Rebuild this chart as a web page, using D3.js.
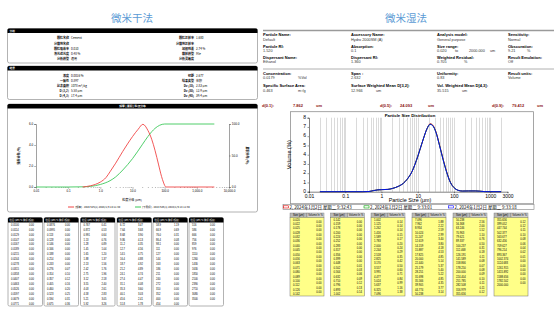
<!DOCTYPE html>
<html>
<head>
<meta charset="utf-8">
<script src="https://cdn.jsdelivr.net/npm/d3@7"></script>
<style>
  body { margin: 0; background: #fff; }
  svg text { font-family: "Liberation Sans", Arial, sans-serif; }
  svg .cn { font-family: "Noto Sans CJK SC", "Liberation Sans", sans-serif; }
</style>
</head>
<body>
<div id="chart-area"></div>
<script>
// ---------------- data : left (dry) ----------------
let dryInfoLabelsL = ["颗粒名称", "分散剂名称", "颗粒吸收率", "激光遮光度", "分析模型"];
let dryInfoValuesL = ["Cement", "", "0.010", "0.48 %", "通用"];
let dryInfoLabelsR = ["颗粒折射率", "分散剂折射率", "加权残差", "散射模型", "分析灵敏度"];
let dryInfoValuesR = ["1.680", "", "2.74 %", "Mie", ""];
let dryResLabelsL = ["浓度", "一致性", "比表面积", "D [3,2]", "D [4,3]"];
let dryResValuesL = ["0.0016 %", "0.897", "1078 m²/kg", "5.58 μm", "17.4 μm"];
let dryResLabelsR = ["径距", "结果类型", "Dv (10)", "Dv (50)", "Dv (90)"];
let dryResValuesR = ["2.677", "体积", "2.83 μm", "12.9 μm", "39.4 μm"];

// curves
let dryFreqSizes = [0.28, 0.5, 0.7, 1, 1.5, 2, 3, 5, 7, 10, 15, 21, 30, 40, 50, 65, 80, 91, 100, 110, 200, 1000, 3500];
let dryFreq      = [0, 0.12, 0.25, 0.47, 0.9, 1.45, 2.27, 3.4, 4.1, 4.8, 5.5, 5.97, 5.4, 4.5, 3.5, 2.1, 1.0, 0.47, 0.15, 0, 0, 0, 0];
let dryCumSizes  = [0.01, 0.1, 0.3, 0.5, 1, 2, 3, 5, 10, 20, 30, 40, 50, 70, 100, 3500];
let dryCum       = [0, 0, 0.3, 1, 4, 10, 16, 27, 45, 67, 80, 88, 93, 98, 100, 100];

let dryXTicks = [0.01, 0.1, 1, 10, 100, 1000, 10000];
let dryFreqTicks = [0, 2, 4, 6];
let dryCumTicks = [0, 50, 100];

// table : size (µm) / % volume
let dryTableSizes = [
  0.0100, 0.0114, 0.0129, 0.0147, 0.0167, 0.0189, 0.0215, 0.0244, 0.0278, 0.0315, 0.0358, 0.0407, 0.0463, 0.0526, 0.0597, 0.0679, 0.0771,
  0.0876, 0.0995, 0.113, 0.128, 0.146, 0.166, 0.188, 0.214, 0.243, 0.276, 0.314, 0.357, 0.405, 0.460, 0.523, 0.594, 0.675,
  0.767, 0.872, 0.991, 1.13, 1.28, 1.45, 1.65, 1.88, 2.13, 2.42, 2.75, 3.12, 3.55, 4.03, 4.58, 5.21, 5.92,
  6.72, 7.64, 8.68, 9.86, 11.2, 12.7, 14.5, 16.4, 18.7, 21.2, 24.1, 27.4, 31.1, 35.3, 40.1, 45.6, 51.8,
  58.9, 66.9, 76.0, 86.4, 98.1, 111, 127, 144, 163, 186, 211, 240, 272, 310, 352, 400, 454,
  516, 586, 666, 756, 859, 976, 1110, 1260, 1430, 1630, 1850, 2100, 2390, 2710, 3080, 3500
];
let dryTableValues = [
  0, 0, 0, 0, 0, 0, 0, 0, 0, 0, 0, 0, 0, 0, 0, 0, 0,
  0, 0, 0, 0, 0, 0, 0, 0, 0, 0.07, 0.10, 0.12, 0.16, 0.20, 0.25, 0.31, 0.36,
  0.41, 0.53, 0.64, 0.76, 0.89, 1.04, 1.20, 1.37, 1.56, 1.76, 1.96, 2.18, 2.40, 2.61, 2.83, 3.05, 3.26,
  3.47, 3.68, 3.90, 4.13, 4.35, 4.56, 4.75, 4.88, 4.92, 4.89, 4.74, 4.47, 4.08, 3.60, 3.03, 2.41, 1.78,
  1.19, 0.69, 0.31, 0.08, 0, 0, 0, 0, 0, 0, 0, 0, 0, 0, 0, 0, 0,
  0, 0, 0, 0, 0, 0, 0, 0, 0, 0, 0, 0, 0, 0, 0, 0
];

// ---------------- data : right (wet) ----------------
let wetInfoLabels = [
  ["Particle Name:", "Particle RI:", "Dispersant Name:"],
  ["Accessory Name:", "Absorption:", "Dispersant RI:"],
  ["Analysis model:", "Size range:", "Weighted Residual:"],
  ["Sensitivity:", "Obscuration:", "Result Emulation:"]
];
let wetInfoValues = [
  ["Default", "1.520", "Ethanol"],
  ["Hydro 2000SM (A)", "0.1", "1.360"],
  ["General purpose", "0.020", "0.705"],
  ["Normal", "9.21", "Off"]
];
let wetResLabels = [
  ["Concentration:", "Specific Surface Area:"],
  ["Span :", "Surface Weighted Mean D[3,2]:"],
  ["Uniformity:", "Vol. Weighted Mean D[4,3]:"],
  ["Result units:", ""]
];
let wetResValues = [
  ["0.0179", "0.463"],
  ["2.632", "12.966"],
  ["0.83", "35.515"],
  ["Volume", ""]
];
let wetDLabels = ["d(0.1):", "d(0.5):", "d(0.9):"];
let wetDValues = ["7.862", "24.093", "79.412"];

let wetCurveSizes = [0.02, 0.3, 0.45, 0.6, 0.8, 1, 1.5, 2, 3, 4, 5, 7, 10, 14, 18, 22, 26, 32, 40, 50, 63, 80, 100, 130, 170, 250, 400, 500, 700, 1000, 2000];
let wetRun1 = [0, 0, 0.02, 0.12, 0.2, 0.22, 0.25, 0.35, 0.6, 0.9, 1.3, 2.2, 3.8, 5.6, 6.8, 7.35, 7.2, 6.45, 5.05, 3.55, 2.15, 1.02, 0.46, 0.15, 0.07, 0.08, 0.08, 0.06, 0.01, 0, 0];
let wetRun2 = [0, 0, 0.02, 0.12, 0.2, 0.22, 0.25, 0.35, 0.6, 0.9, 1.3, 2.2, 3.8, 5.6, 6.8, 7.3, 7.15, 6.4, 5.0, 3.5, 2.1, 1.0, 0.45, 0.15, 0.07, 0.08, 0.08, 0.06, 0.01, 0, 0];
let wetRun3 = [0, 0, 0.02, 0.12, 0.2, 0.22, 0.25, 0.35, 0.6, 0.9, 1.3, 2.2, 3.8, 5.6, 6.8, 7.28, 7.13, 6.38, 4.98, 3.48, 2.08, 0.98, 0.44, 0.15, 0.07, 0.08, 0.08, 0.06, 0.01, 0, 0];
let wetRunNames = ["2, 2024年1月2日 星期二 9:32:43", "2, 2024年1月2日 星期二 9:33:01", "2, 2024年1月2日 星期二 9:33:18"];
let wetRunColors = ["#e00000", "#00a000", "#0000ff"];

let wetXTicks = [0.01, 0.1, 1, 10, 100, 1000, 3000];
let wetYTicks = [0, 1, 2, 3, 4, 5, 6, 7, 8];
let wetGridMultiples = [1, 2, 3, 4, 5, 6, 7, 8, 9];
let wetGridDecades = [0.01, 0.1, 1, 10, 100, 1000];

let wetTableSizes = [
  0.020, 0.022, 0.025, 0.028, 0.032, 0.036, 0.040, 0.045, 0.050, 0.056, 0.063, 0.071, 0.080, 0.089, 0.100, 0.112, 0.126,
  0.142, 0.159, 0.178, 0.200, 0.224, 0.252, 0.283, 0.317, 0.356, 0.399, 0.448, 0.502, 0.564, 0.632, 0.710, 0.796, 0.893,
  1.002, 1.125, 1.262, 1.416, 1.589, 1.783, 2.000, 2.244, 2.518, 2.825, 3.170, 3.557, 3.991, 4.477, 5.024, 5.637, 6.325,
  7.096, 7.962, 8.934, 10.024, 11.247, 12.619, 14.159, 15.887, 17.825, 20.000, 22.440, 25.179, 28.251, 31.698, 35.566, 39.905, 44.774,
  50.238, 56.368, 63.246, 70.963, 79.621, 89.337, 100.237, 112.468, 126.191, 141.589, 158.866, 178.250, 200.000, 224.404, 251.785, 282.508, 316.979,
  355.656, 399.052, 447.744, 502.377, 563.677, 632.456, 709.627, 796.214, 893.367, 1002.374, 1124.683, 1261.915, 1415.892, 1588.656, 1782.502, 2000.000
];
let wetTableVolumes = [
  0, 0, 0, 0, 0, 0, 0, 0, 0, 0, 0, 0, 0, 0, 0, 0, 0,
  0, 0, 0, 0, 0, 0, 0, 0, 0, 0, 0.01, 0.03, 0.06, 0.09, 0.12, 0.13, 0.14,
  0.14, 0.14, 0.14, 0.15, 0.17, 0.20, 0.24, 0.29, 0.35, 0.42, 0.50, 0.60, 0.71, 0.84, 0.99, 1.16, 1.38,
  1.88, 2.22, 2.59, 2.99, 3.40, 3.80, 4.18, 4.53, 4.85, 5.14, 5.37, 5.40, 5.22, 4.85, 4.35, 3.77, 3.14,
  2.56, 2.00, 1.52, 1.10, 0.76, 0.50, 0.31, 0.18, 0.11, 0.08, 0.07, 0.08, 0.09, 0.10, 0.11, 0.11, 0.12,
  0.12, 0.12, 0.11, 0.10, 0.08, 0.06, 0.04, 0.02, 0.01, 0, 0, 0, 0, 0, 0
];

// ---------------- svg ----------------
let svg = d3.select("#chart-area")
  .append("svg")
  .attr("width", 554)
  .attr("height", 309)
  .style("display", "block");

svg.append("rect").attr("width", 554).attr("height", 309).attr("fill", "#fff");

// titles
svg.append("text").attr("class", "cn")
  .attr("x", 132).attr("y", 22).attr("text-anchor", "middle")
  .attr("font-size", 10.5).attr("fill", "#5b9bd5").text("微米干法");
svg.append("text").attr("class", "cn")
  .attr("x", 406).attr("y", 22).attr("text-anchor", "middle")
  .attr("font-size", 10.5).attr("fill", "#5b9bd5").text("微米湿法");

// box with black rounded header
function sectionBox(x, y, w, h, title, centered) {
  let g = svg.append("g");
  g.append("rect")
    .attr("x", x).attr("y", y).attr("width", w).attr("height", h)
    .attr("rx", 2).attr("fill", "#fff")
    .attr("stroke", "#a0a0a0").attr("stroke-width", 0.8);
  g.append("path")
    .attr("d", "M" + x + "," + (y + 4.5) + " V" + (y + 1.5) + " Q" + x + "," + y + " " + (x + 1.5) + "," + y +
      " H" + (x + w - 1.5) + " Q" + (x + w) + "," + y + " " + (x + w) + "," + (y + 1.5) + " V" + (y + 4.5) + " Z")
    .attr("fill", "#000");
  g.append("text").attr("class", "cn")
    .attr("x", centered ? x + w / 2 : x + 2).attr("y", y + 3.4)
    .attr("text-anchor", centered ? "middle" : "start")
    .attr("font-size", 2.8).attr("font-weight", "bold").attr("fill", "#fff")
    .text(title);
  return g;
}

function infoRows(labels, values, labelX, y0, step) {
  let g = svg.append("g").attr("class", "cn").attr("font-size", 3);
  g.selectAll(".lab").data(labels).enter().append("text")
    .attr("class", "cn")
    .attr("x", labelX).attr("y", (d, i) => y0 + i * step)
    .attr("text-anchor", "end").attr("font-weight", "bold")
    .text(d => d);
  g.selectAll(".val").data(values).enter().append("text")
    .attr("class", "cn")
    .attr("x", labelX + 2).attr("y", (d, i) => y0 + i * step)
    .text(d => d);
}

sectionBox(7.5, 28.5, 250, 34.5, "分析", false);
infoRows(dryInfoLabelsL, dryInfoValuesL, 69, 39.3, 5.25);
infoRows(dryInfoLabelsR, dryInfoValuesR, 194, 39.3, 5.25);

sectionBox(7.5, 66, 250, 33.5, "结果", false);
infoRows(dryResLabelsL, dryResValuesL, 69, 76.6, 5.1);
infoRows(dryResLabelsR, dryResValuesR, 194, 76.6, 5.1);

// ---------------- dry chart ----------------
sectionBox(7.5, 104, 250, 108, "频率 | 累积 | 粒径分布", true);

let xDry = d3.scaleLog().domain([0.01, 10000]).range([36, 229]);
let yFreq = d3.scaleLinear().domain([0, 6]).range([187, 124]);
let yCum = d3.scaleLinear().domain([0, 100]).range([187, 124]);

function styleAxis(g, size) {
  g.attr("font-size", size).attr("font-family", "Liberation Sans, Arial, sans-serif");
  g.selectAll("line").attr("stroke", "#444").attr("stroke-width", 0.4);
  g.selectAll("path").attr("stroke", "#444").attr("stroke-width", 0.5);
}

// minor ticks
let dryMinor = svg.append("g").attr("transform", "translate(0,187)")
  .call(d3.axisBottom(xDry).tickValues(xDry.ticks().filter(d => dryXTicks.indexOf(d) < 0)).tickSize(1).tickFormat(""));
styleAxis(dryMinor, 3);
dryMinor.select(".domain").remove();

let dryXAxis = svg.append("g").attr("transform", "translate(0,187)")
  .call(d3.axisBottom(xDry).tickValues(dryXTicks).tickSize(1.8).tickPadding(1)
    .tickFormat(d => d < 0.05 ? "0.01" : d3.format(",.1f")(d)));
styleAxis(dryXAxis, 3);
dryXAxis.select(".domain").remove();

let dryYAxis = svg.append("g").attr("transform", "translate(36,0)")
  .call(d3.axisLeft(yFreq).tickValues(dryFreqTicks).tickSize(1.8).tickPadding(1).tickFormat(d3.format(".1f")));
styleAxis(dryYAxis, 3);

let dryY2Axis = svg.append("g").attr("transform", "translate(229,0)")
  .call(d3.axisRight(yCum).tickValues(dryCumTicks).tickSize(1.8).tickPadding(1).tickFormat(d3.format(".1f")));
styleAxis(dryY2Axis, 3);

svg.append("text").attr("class", "cn")
  .attr("transform", "translate(20,155.5) rotate(-90)").attr("text-anchor", "middle")
  .attr("font-size", 3).attr("font-weight", "bold").text("频率分布 (%)");
svg.append("text").attr("class", "cn")
  .attr("transform", "translate(246,155.5) rotate(90)").attr("text-anchor", "middle")
  .attr("font-size", 3).attr("font-weight", "bold").text("累积分布 (%)");
svg.append("text").attr("class", "cn")
  .attr("x", 132).attr("y", 201).attr("text-anchor", "middle")
  .attr("font-size", 3).text("粒度分级 (μm)");

let cumLine = d3.line()
  .x(d => xDry(d[0])).y(d => yCum(d[1]))
  .curve(d3.curveMonotoneX);
let freqLine = d3.line()
  .x(d => xDry(d[0])).y(d => yFreq(d[1]))
  .curve(d3.curveMonotoneX);

svg.append("path").datum(d3.zip(dryCumSizes, dryCum))
  .attr("d", cumLine).attr("fill", "none")
  .attr("stroke", "#3cc85a").attr("stroke-width", 0.9);
svg.append("path").datum(d3.zip(dryFreqSizes, dryFreq))
  .attr("d", freqLine).attr("fill", "none")
  .attr("stroke", "#f04646").attr("stroke-width", 0.9);

// legend
let dryLegend = [["[频率] - 2024 525(1)-2024/1/9 14:11:30", "#f04646", 68], ["[下累积] - 2024 525(1)-2024/1/9 14:11:30", "#3cc85a", 135]];
dryLegend.forEach(d => {
  svg.append("line").attr("x1", d[2]).attr("x2", d[2] + 6).attr("y1", 207).attr("y2", 207)
    .attr("stroke", d[1]).attr("stroke-width", 1);
  svg.append("text").attr("class", "cn").attr("x", d[2] + 7).attr("y", 208)
    .attr("font-size", 2.6).text(d[0]);
});

// dry tables
let dryTableX = [8, 44, 80.5, 117, 153, 189];
dryTableX.forEach((tx, c) => {
  let start = c * 17;
  let rows = d3.range(start, Math.min(start + 17, dryTableSizes.length));
  let g = svg.append("g");
  g.append("rect").attr("x", tx).attr("y", 217.5).attr("width", 34.5).attr("height", 88.5)
    .attr("rx", 1.5).attr("fill", "#fff").attr("stroke", "#a0a0a0").attr("stroke-width", 0.8);
  g.append("path")
    .attr("d", "M" + tx + ",222.5 V219 Q" + tx + ",217.5 " + (tx + 1.5) + ",217.5 H" + (tx + 33) +
      " Q" + (tx + 34.5) + ",217.5 " + (tx + 34.5) + ",219 V222.5 Z")
    .attr("fill", "#000");
  g.append("text").attr("class", "cn").attr("x", tx + 1.5).attr("y", 221.3)
    .attr("font-size", 2.3).attr("fill", "#fff").text("粒径 (μm) % 体积 (频度)");
  g.selectAll(".s").data(rows).enter().append("text")
    .attr("x", tx + 3).attr("y", (d, i) => 225.7 + i * 4.94)
    .attr("font-size", 2.6).text(i => d3.format(".3r")(dryTableSizes[i]));
  g.selectAll(".v").data(rows).enter().append("text")
    .attr("x", tx + 26).attr("y", (d, i) => 225.7 + i * 4.94)
    .attr("text-anchor", "end")
    .attr("font-size", 2.6).text(i => d3.format(".2f")(dryTableValues[i]));
});

// ---------------- wet info ----------------
svg.append("line").attr("x1", 263).attr("x2", 554).attr("y1", 30.5).attr("y2", 30.5)
  .attr("stroke", "#9a9a9a").attr("stroke-width", 1.3);
svg.append("line").attr("x1", 263).attr("x2", 554).attr("y1", 69).attr("y2", 69)
  .attr("stroke", "#b0b0b0").attr("stroke-width", 1);

let wetColX = [263, 351, 437, 508];
let wetRowY = [36, 47.8, 58.8];
wetInfoLabels.forEach((col, c) => {
  col.forEach((lab, r) => {
    svg.append("text").attr("x", wetColX[c]).attr("y", wetRowY[r])
      .attr("font-size", 4).attr("font-weight", "bold").text(lab);
    svg.append("text").attr("x", wetColX[c]).attr("y", wetRowY[r] + 4.6)
      .attr("font-size", 3.8).attr("fill", "#333").text(wetInfoValues[c][r]);
  });
});
// units next to some values
let wetUnits = [["to", 455, 52.4], ["2000.000", 469, 52.4], ["um", 490, 52.4], ["%", 464, 63.4], ["%", 527, 52.4]];
wetUnits.forEach(d => {
  svg.append("text").attr("x", d[1]).attr("y", d[2]).attr("font-size", 3.8).attr("fill", "#333").text(d[0]);
});

let wetResRowY = [74.8, 87.4];
wetResLabels.forEach((col, c) => {
  col.forEach((lab, r) => {
    svg.append("text").attr("x", wetColX[c]).attr("y", wetResRowY[r])
      .attr("font-size", 4).attr("font-weight", "bold").text(lab);
    svg.append("text").attr("x", wetColX[c]).attr("y", wetResRowY[r] + 4.6)
      .attr("font-size", 3.8).attr("fill", "#333").text(wetResValues[c][r]);
  });
});
let wetResUnits = [["%Vol", 298, 79.4], ["m²/g", 298, 92], ["um", 376, 92], ["um", 462, 92]];
wetResUnits.forEach(d => {
  svg.append("text").attr("x", d[1]).attr("y", d[2]).attr("font-size", 3.8).attr("fill", "#333").text(d[0]);
});

// d values row
let wetDX = [[262, 293, 316], [380, 400, 428], [492, 512, 537]];
wetDLabels.forEach((lab, i) => {
  let row = svg.append("g").attr("font-size", 4).attr("fill", "#8b1010").attr("font-weight", "bold");
  row.append("text").attr("x", wetDX[i][0]).attr("y", 107.2).text(lab);
  row.append("text").attr("x", wetDX[i][1]).attr("y", 107.2).text(wetDValues[i]);
  row.append("text").attr("x", wetDX[i][2]).attr("y", 107.2).text("um");
});

// ---------------- wet chart ----------------
svg.append("rect").attr("x", 290.5).attr("y", 111.7).attr("width", 243).attr("height", 92)
  .attr("fill", "#fff").attr("stroke", "#909090").attr("stroke-width", 0.8);

let xWet = d3.scaleLog().domain([0.01, 3000]).range([309, 507.5]);
let yWet = d3.scaleLinear().domain([0, 8]).range([191.7, 117.7]);

// grid at every 1..9 multiple from 0.02 to 2000
let gridValues = [];
wetGridDecades.forEach(dec => wetGridMultiples.forEach(m => gridValues.push(+(m * dec).toPrecision(3))));
gridValues = gridValues.filter(d => d > 0.011 && d <= 2000);

svg.append("g").selectAll("line")
  .data(gridValues)
  .enter().append("line")
  .attr("x1", d => Math.round(xWet(d)) + 0.5).attr("x2", d => Math.round(xWet(d)) + 0.5)
  .attr("y1", yWet(8)).attr("y2", yWet(0))
  .attr("stroke", "#dadada").attr("stroke-width", 1);

let wetXAxis = svg.append("g").attr("transform", "translate(0,191.7)")
  .call(d3.axisBottom(xWet).tickValues(wetXTicks).tickSize(1.5).tickPadding(1).tickFormat(d => String(d)));
styleAxis(wetXAxis, 5);
wetXAxis.selectAll("path, line").attr("stroke", "#000");

let wetYAxis = svg.append("g").attr("transform", "translate(309,0)")
  .call(d3.axisLeft(yWet).tickValues(wetYTicks).tickSize(1.5).tickPadding(1.5));
styleAxis(wetYAxis, 5);
wetYAxis.selectAll("path, line").attr("stroke", "#000");
wetYAxis.selectAll(".tick text").attr("dy", "0.15em");

svg.append("text").attr("x", 410).attr("y", 117.3).attr("text-anchor", "middle")
  .attr("font-size", 4.3).attr("font-weight", "bold").text("Particle Size Distribution");
svg.append("text").attr("x", 410).attr("y", 202.3).attr("text-anchor", "middle")
  .attr("font-size", 5.4).text("Particle Size (μm)");
svg.append("text").attr("transform", "translate(291,154.7) rotate(-90)").attr("text-anchor", "middle")
  .attr("font-size", 5.6).text("Volume (%)");

let wetLine = d3.line()
  .x(d => xWet(d[0])).y(d => yWet(d[1]))
  .curve(d3.curveMonotoneX);
[wetRun1, wetRun2, wetRun3].forEach((run, i) => {
  svg.append("path").datum(d3.zip(wetCurveSizes, run))
    .attr("d", wetLine).attr("fill", "none")
    .attr("stroke", wetRunColors[i]).attr("stroke-width", 0.9);
});

// legend strip
svg.append("rect").attr("x", 283).attr("y", 204.3).attr("width", 251).attr("height", 5.2)
  .attr("fill", "#fff").attr("stroke", "#808080").attr("stroke-width", 0.6);
let wetLegendX = [283.5, 364, 448.5];
wetRunNames.forEach((name, i) => {
  svg.append("rect").attr("x", wetLegendX[i]).attr("y", 205.8).attr("width", 5).attr("height", 2.2)
    .attr("fill", "#fff").attr("stroke", wetRunColors[i]).attr("stroke-width", 0.6);
  svg.append("text").attr("class", "cn").attr("x", wetLegendX[i] + 6).attr("y", 208.6)
    .attr("font-size", 4.4).text(name);
});

// wet tables
let wetTableX = [290, 330.5, 371, 412, 453, 494];
let rowH = 4.39;
wetTableX.forEach((tx, c) => {
  let start = c * 17;
  let sizeRows = d3.range(start, Math.min(start + 18, wetTableSizes.length));
  let volRows = d3.range(start, Math.min(start + 17, wetTableVolumes.length));
  let g = svg.append("g");
  g.append("rect").attr("x", tx).attr("y", 213).attr("width", 17).attr("height", 4.3)
    .attr("fill", "#b8b8b8").attr("stroke", "#707070").attr("stroke-width", 0.4);
  g.append("rect").attr("x", tx + 17).attr("y", 213).attr("width", 17).attr("height", 4.3)
    .attr("fill", "#d0d0d0").attr("stroke", "#707070").attr("stroke-width", 0.4);
  g.append("text").attr("x", tx + 8.5).attr("y", 216.2).attr("text-anchor", "middle")
    .attr("font-size", 2.6).text("Size (μm)");
  g.append("text").attr("x", tx + 25.5).attr("y", 216.2).attr("text-anchor", "middle")
    .attr("font-size", 2.6).text("Volume In %");
  g.append("rect").attr("x", tx).attr("y", 217.3).attr("width", 34).attr("height", 78.7)
    .attr("fill", "#ffff88").attr("stroke", "#707070").attr("stroke-width", 0.5);
  g.selectAll(".s").data(sizeRows).enter().append("text")
    .attr("x", tx + 3).attr("y", (d, i) => 220.5 + i * rowH)
    .attr("font-size", 2.7).text(i => d3.format(".3f")(wetTableSizes[i]));
  g.selectAll(".v").data(volRows).enter().append("text")
    .attr("x", tx + 31.5).attr("y", (d, i) => 220.5 + (i + 0.5) * rowH)
    .attr("text-anchor", "end")
    .attr("font-size", 2.7).text(i => d3.format(".2f")(wetTableVolumes[i]));
});
</script>
</body>
</html>
